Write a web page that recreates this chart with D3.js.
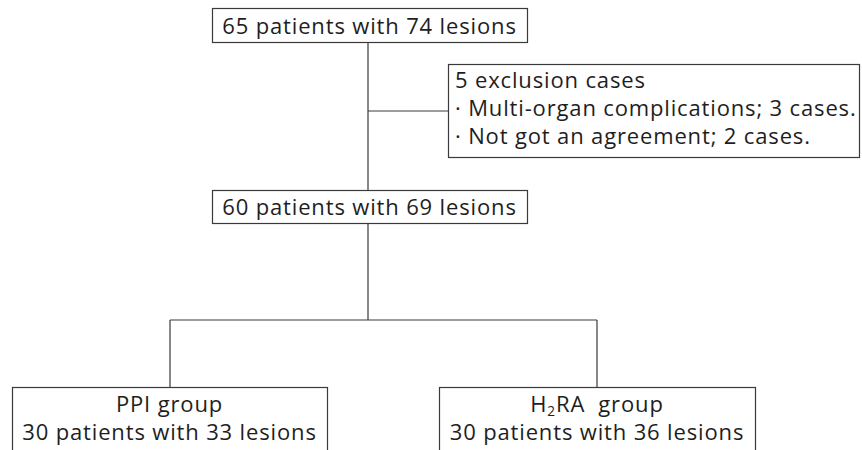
<!DOCTYPE html>
<html><head><meta charset="utf-8">
<script src="https://cdn.jsdelivr.net/npm/d3@7"></script>
<style>html,body{margin:0;padding:0;background:#fff;}svg{display:block;}text{white-space:pre;}</style>
</head><body>
<script>
const topLabel = ["65 patients with 74 lesions"];
const exclusionLabel = ["5 exclusion cases", "· Multi-organ complications; 3 cases.", "· Not got an agreement; 2 cases."];
const middleLabel = ["60 patients with 69 lesions"];
const groupNames = ["PPI group", "H2RA  group"];
const groupCounts = ["30 patients with 33 lesions", "30 patients with 36 lesions"];

const W = 862, H = 450;
const svg = d3.select("body").append("svg").attr("width", W).attr("height", H);
const font = "'Open Sans', 'Noto Sans', sans-serif";
const fs = 22;
const ls = 0.85;
const stroke = "#3a3a3a", txt = "#1e1e1e";

function box(x, y, w, h) {
  svg.append("rect").attr("x", x + 0.5).attr("y", y + 0.5).attr("width", w).attr("height", h)
    .attr("fill", "#fff").attr("stroke", stroke).attr("stroke-width", 1.2);
}
function line(pts) {
  svg.append("path").attr("d", d3.line()(pts)).attr("fill", "none")
    .attr("stroke", stroke).attr("stroke-width", 1.2);
}
function text(x, y, s, anchor) {
  return svg.append("text").attr("x", x).attr("y", y).attr("text-anchor", anchor || "middle")
    .attr("font-family", font).attr("font-size", fs).attr("letter-spacing", ls)
    .attr("fill", txt).text(s);
}

// connectors
const cx = 368;
line([[cx, 42], [cx, 320]]);
line([[cx, 111], [448, 111]]);
line([[170, 320], [597, 320]]);
line([[170, 320], [170, 387]]);
line([[597, 320], [597, 387]]);

// top box
box(212, 8, 315, 34);
text(369.5, 34, topLabel[0]);

// exclusion box
box(448, 64, 411, 93);
exclusionLabel.forEach((s, i) => text(455, 88 + i * 28, s, "start"));

// middle box
box(212, 190, 315, 33);
text(369.5, 215, middleLabel[0]);

// group boxes
const gx = [[12, 327], [439, 755]];
gx.forEach(([a, b], i) => {
  box(a, 387, b - a, 70);
  const mid = (a + b) / 2;
  const t = text(mid, 412, "");
  if (groupNames[i].startsWith("H2")) {
    t.append("tspan").text("H");
    t.append("tspan").attr("font-size", fs * 0.62).attr("dy", 4).text("2");
    t.append("tspan").attr("dy", -4).text(groupNames[i].slice(2));
  } else {
    t.text(groupNames[i]);
  }
  text(mid, 440, groupCounts[i]);
});
</script>
</body></html>
